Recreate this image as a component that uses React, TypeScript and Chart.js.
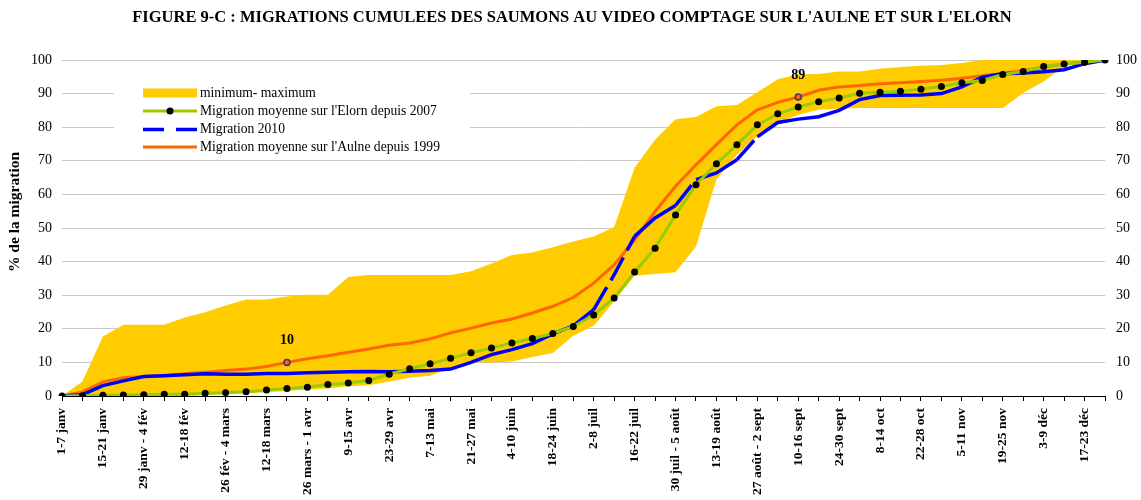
import React, { useEffect, useRef } from "react";
import { Chart, registerables } from "chart.js";

Chart.register(...registerables);

const weeks: string[] = [
  "1-7 janv", "8-14 janv", "15-21 janv", "22-28 janv", "29 janv - 4 fév", "5-11 fév",
  "12-18 fév", "19-25 fév", "26 fév - 4 mars", "5-11 mars", "12-18 mars", "19-25 mars",
  "26 mars - 1 avr", "2-8 avr", "9-15 avr", "16-22 avr", "23-29 avr", "30 avr - 6 mai",
  "7-13 mai", "14-20 mai", "21-27 mai", "28 mai - 3 juin", "4-10 juin", "11-17 juin",
  "18-24 juin", "25 juin - 1 juil", "2-8 juil", "9-15 juil", "16-22 juil", "23-29 juil",
  "30 juil - 5 août", "6-12 août", "13-19 août", "20-26 août", "27 août - 2 sept", "3-9 sept",
  "10-16 sept", "17-23 sept", "24-30 sept", "1-7 oct", "8-14 oct", "15-21 oct",
  "22-28 oct", "29 oct - 4 nov", "5-11 nov", "12-18 nov", "19-25 nov", "26 nov - 2 déc",
  "3-9 déc", "10-16 déc", "17-23 déc", "24-31 déc",
];

const bandMax: number[] = [
  0, 4.3, 17.7, 21.2, 21.2, 21.2, 23.4, 24.9, 26.9, 28.7, 28.7, 29.6, 30.1, 30.1, 35.4, 36.0,
  36.0, 36.0, 36.0, 36.0, 37.1, 39.4, 42.0, 42.7, 44.3, 46.0, 47.5, 50.3, 67.9, 76.3, 82.4,
  83.0, 86.2, 86.6, 90.4, 94.3, 95.7, 95.8, 96.6, 96.6, 97.4, 97.9, 98.3, 98.5, 99.1, 100,
  100, 100, 100, 100, 100, 100,
];

const bandMin: number[] = [
  0, 0, 0, 0, 0, 0, 0, 0.3, 0.5, 0.8, 1.1, 1.5, 1.9, 2.2, 2.9, 3.2, 4.3, 5.4, 6.0, 8.3, 10.0,
  10.0, 10.3, 11.6, 12.8, 17.9, 20.9, 28.2, 35.8, 36.3, 36.8, 44.5, 64.4, 71.8, 77.3, 81.4,
  83.7, 85.2, 85.5, 85.7, 85.7, 85.7, 85.7, 85.7, 85.7, 85.7, 85.7, 90.2, 93.6, 98.1, 99.5, 100,
];

const elorn: number[] = [
  0, 0.1, 0.2, 0.3, 0.4, 0.5, 0.5, 0.8, 1.0, 1.3, 1.8, 2.2, 2.6, 3.4, 3.9, 4.6, 6.5, 8.1, 9.6,
  11.2, 12.9, 14.3, 15.8, 17.1, 18.6, 20.7, 24.1, 29.2, 36.9, 44.0, 53.9, 62.9, 69.1, 74.8,
  80.7, 84.0, 86.0, 87.6, 88.7, 90.1, 90.4, 90.7, 91.3, 92.1, 93.2, 93.9, 95.7, 96.6, 98.1,
  98.8, 99.3, 100,
];

const migr2010: number[] = [
  0, 0.4, 3.1, 4.5, 5.8, 6.0, 6.3, 6.6, 6.5, 6.5, 6.7, 6.7, 6.9, 7.1, 7.2, 7.3, 7.2, 7.4, 7.6,
  8.0, 10.0, 12.3, 13.8, 15.6, 18.5, 20.9, 25.7, 36.1, 47.5, 53.0, 56.7, 64.4, 66.4, 70.3,
  77.1, 81.4, 82.4, 83.1, 85.0, 88.2, 89.4, 89.5, 89.6, 90.0, 92.0, 94.9, 95.9, 96.1, 96.5,
  97.1, 98.9, 100,
];

const aulne: number[] = [
  0, 1.2, 4.2, 5.4, 5.8, 6.1, 6.6, 7.1, 7.6, 8.0, 8.8, 10, 11.1, 12.0, 13.0, 14.0, 15.1, 15.8,
  17.0, 18.8, 20.2, 21.7, 22.9, 24.7, 26.7, 29.3, 33.6, 39.1, 46.5, 54.9, 62.4, 68.8, 74.8,
  80.7, 85.2, 87.4, 89, 91.0, 92.0, 92.4, 92.9, 93.2, 93.6, 94.0, 94.6, 95.3, 96.0, 96.9,
  97.9, 98.8, 99.4, 100,
];

const labelledIdx: number[] = [11, 36];
const legendItems: string[] = [
  "minimum- maximum",
  "Migration moyenne sur l'Elorn depuis 2007",
  "Migration 2010",
  "Migration moyenne sur l'Aulne depuis 1999",
];
const titleText = "FIGURE 9-C : MIGRATIONS CUMULEES DES SAUMONS AU VIDEO COMPTAGE SUR L'AULNE ET SUR L'ELORN";
const yTitle = "% de la migration";

const SERIF = "'Liberation Serif', 'Times New Roman', serif";

const customPlugin = {
  id: "customDecor",
  afterDatasetsDraw(chart: any) {
    const ctx = chart.ctx as CanvasRenderingContext2D;
    ctx.save();
    ctx.fillStyle = "#ffffff";
    ctx.fillRect(114, 72, 356, 84);
    const x0 = 143, x1 = 197;
    const rows = [93, 111, 129.5, 147];
    ctx.fillStyle = "#ffcc00";
    ctx.fillRect(x0, rows[0] - 4.5, x1 - x0, 9);
    ctx.strokeStyle = "#99cc00";
    ctx.lineWidth = 3;
    ctx.beginPath(); ctx.moveTo(x0, rows[1]); ctx.lineTo(x1, rows[1]); ctx.stroke();
    ctx.fillStyle = "#000";
    ctx.beginPath(); ctx.arc(170, rows[1], 3.5, 0, Math.PI * 2); ctx.fill();
    ctx.strokeStyle = "#0000ff";
    ctx.lineWidth = 3.5;
    ctx.beginPath(); ctx.moveTo(x0, rows[2]); ctx.lineTo(164, rows[2]);
    ctx.moveTo(176, rows[2]); ctx.lineTo(x1, rows[2]); ctx.stroke();
    ctx.strokeStyle = "#ff6600";
    ctx.lineWidth = 3;
    ctx.beginPath(); ctx.moveTo(x0, rows[3]); ctx.lineTo(x1, rows[3]); ctx.stroke();
    ctx.fillStyle = "#000";
    ctx.font = `13.6px ${SERIF}`;
    ctx.textBaseline = "middle";
    ctx.textAlign = "left";
    legendItems.forEach((t, i) => ctx.fillText(t, 200, rows[i]));

    const meta = chart.getDatasetMeta(2);
    ctx.font = `bold 14px ${SERIF}`;
    ctx.textAlign = "center";
    labelledIdx.forEach((i) => {
      const p = meta.data[i];
      ctx.fillText(String(Math.round(aulne[i])), p.x, p.y - 22);
    });
    ctx.restore();
  },
  afterDraw(chart: any) {
    const ctx = chart.ctx as CanvasRenderingContext2D;
    ctx.save();
    ctx.fillStyle = "#000";
    ctx.textAlign = "center";
    ctx.textBaseline = "middle";
    ctx.font = `bold 16.5px ${SERIF}`;
    ctx.fillText(titleText, 572, 18);
    ctx.translate(15, 212);
    ctx.rotate(-Math.PI / 2);
    ctx.font = `bold 15.5px ${SERIF}`;
    ctx.fillText(yTitle, 0, 0);
    ctx.restore();
  },
};

export default function App() {
  const ref = useRef<HTMLCanvasElement | null>(null);
  useEffect(() => {
    document.body.style.margin = "0";
    if (!ref.current) return;
    const longDash = (c: any) =>
      Math.hypot(c.p1.x - c.p0.x, c.p1.y - c.p0.y) > 28 ? [26, 8] : undefined;
    const chart = new Chart(ref.current, {
      type: "line",
      data: {
        labels: weeks,
        datasets: [
          {
            label: "Migration moyenne sur l'Elorn depuis 2007",
            data: elorn,
            borderColor: "#99cc00",
            borderWidth: 3,
            pointRadius: 3.5,
            pointBackgroundColor: "#000",
            pointBorderColor: "#000",
            pointBorderWidth: 0,
            tension: 0,
            fill: false,
          },
          {
            label: "Migration 2010",
            data: migr2010,
            borderColor: "#0000ff",
            borderWidth: 3.5,
            pointRadius: 0,
            tension: 0,
            fill: false,
            segment: { borderDash: longDash },
          } as any,
          {
            label: "Migration moyenne sur l'Aulne depuis 1999",
            data: aulne,
            borderColor: "#ff6600",
            borderWidth: 3,
            pointRadius: aulne.map((_, i) => (labelledIdx.includes(i) ? 3 : 0)),
            pointBackgroundColor: "#ff6600",
            pointBorderColor: "#333399",
            pointBorderWidth: 1.5,
            tension: 0,
            fill: false,
          },
          {
            label: "maximum",
            data: bandMax,
            borderWidth: 0,
            borderColor: "rgba(0,0,0,0)",
            backgroundColor: "#ffcc00",
            pointRadius: 0,
            tension: 0,
            fill: "+1",
          },
          {
            label: "minimum",
            data: bandMin,
            borderWidth: 0,
            borderColor: "rgba(0,0,0,0)",
            backgroundColor: "#ffcc00",
            pointRadius: 0,
            tension: 0,
            fill: false,
          },
        ],
      },
      options: {
        responsive: false,
        animation: false,
        events: [],
        layout: { padding: { top: 60, left: 0, right: 0, bottom: 0 } },
        plugins: { legend: { display: false }, tooltip: { enabled: false }, title: { display: false } },
        scales: {
          x: {
            type: "category",
            offset: false,
            grid: {
              drawOnChartArea: false,
              drawTicks: true,
              tickLength: 5,
              color: "#000",
              offset: false,
            },
            border: { color: "#000", width: 1 },
            ticks: {
              autoSkip: false,
              maxRotation: 90,
              minRotation: 90,
              padding: 7,
              color: "#000",
              font: { family: SERIF, size: 13.5, weight: "bold" },
              callback: (_v: any, i: number) => (i % 2 === 0 ? weeks[i] : ""),
            },
            afterFit: (s: any) => { s.height = 104; },
          },
          y: {
            position: "left",
            min: 0,
            max: 100,
            ticks: {
              stepSize: 10,
              padding: 10,
              color: "#000",
              font: { family: SERIF, size: 14 },
            },
            grid: { color: "#c8c8c8", lineWidth: 1, drawTicks: false },
            border: { display: false },
            afterFit: (s: any) => { s.width = 62; },
          },
          y2: {
            position: "right",
            min: 0,
            max: 100,
            ticks: {
              stepSize: 10,
              padding: 11,
              color: "#000",
              font: { family: SERIF, size: 14 },
            },
            grid: { drawOnChartArea: false, drawTicks: false },
            border: { display: false },
            afterFit: (s: any) => { s.width = 36; },
          },
        },
      } as any,
      plugins: [customPlugin],
    });
    return () => chart.destroy();
  }, []);
  return (
    <div style={{ width: 1141, height: 500, background: "#fff" }}>
      <canvas ref={ref} width={1141} height={500} style={{ display: "block" }} />
    </div>
  );
}
